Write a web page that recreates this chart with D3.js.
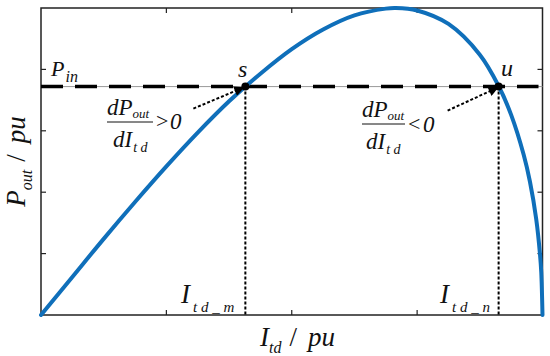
<!DOCTYPE html>
<html>
<head>
<meta charset="utf-8">
<script src="https://cdn.jsdelivr.net/npm/d3@7"></script>
<style>
  body { margin: 0; background: #fff; }
  svg text { font-family: "Liberation Serif", "DejaVu Serif", serif; font-style: italic; fill: #111; }
</style>
</head>
<body>
<svg id="chart" width="550" height="356"></svg>
<script>
// curve (I_td vs P_out, both in pu)
const itd  = [0, 0.25, 0.5, 0.75, 1.0, 1.25, 1.5, 1.75, 2.0, 2.25, 2.5, 2.75, 2.83, 3.0, 3.25, 3.5, 3.65, 3.75, 3.85, 3.9, 3.95, 3.98, 3.99, 4.0];
const pout = [0, 0.62, 1.24, 1.84, 2.42, 2.97, 3.48, 3.93, 4.33, 4.65, 4.88, 4.99, 5.0, 4.96, 4.74, 4.24, 3.73, 3.26, 2.61, 2.17, 1.56, 0.99, 0.7, 0];

const xTicks = [1, 2, 3];
const yTicks = [1, 2, 3, 4];

const pin = 3.72;      // P_in level
const sI = 1.63;       // stable point s
const uI = 3.65;       // unstable point u

const MARGIN = { LEFT: 41, RIGHT: 7.5, TOP: 8, BOTTOM: 41 };
const width = 550, height = 356;

const svg = d3.select("#chart");

const xScale = d3.scaleLinear().domain([0, 4]).range([MARGIN.LEFT, width - MARGIN.RIGHT]);
const yScale = d3.scaleLinear().domain([0, 5]).range([height - MARGIN.BOTTOM, MARGIN.TOP]);

const x0 = xScale(0), x1 = xScale(4), y0 = yScale(0), y1 = yScale(5);

// arrow marker
svg.append("defs").append("marker")
    .attr("id", "head")
    .attr("viewBox", "0 0 10 10")
    .attr("refX", 9).attr("refY", 5)
    .attr("markerUnits", "userSpaceOnUse")
    .attr("markerWidth", 12).attr("markerHeight", 10)
    .attr("orient", "auto")
  .append("path")
    .attr("d", "M0,0 L10,5 L0,10 z")
    .attr("fill", "#000");

// frame
svg.append("rect")
    .attr("x", x0).attr("y", y1)
    .attr("width", x1 - x0).attr("height", y0 - y1)
    .attr("fill", "none").attr("stroke", "#222").attr("stroke-width", 1.5);

// ticks pointing inward on all four sides
xTicks.forEach(function (t) {
  svg.append("line").attr("x1", xScale(t)).attr("x2", xScale(t)).attr("y1", y0).attr("y2", y0 - 5)
      .attr("stroke", "#222").attr("stroke-width", 1.2);
  svg.append("line").attr("x1", xScale(t)).attr("x2", xScale(t)).attr("y1", y1).attr("y2", y1 + 5)
      .attr("stroke", "#222").attr("stroke-width", 1.2);
});
yTicks.forEach(function (t) {
  svg.append("line").attr("x1", x0).attr("x2", x0 + 5).attr("y1", yScale(t)).attr("y2", yScale(t))
      .attr("stroke", "#222").attr("stroke-width", 1.2);
  svg.append("line").attr("x1", x1).attr("x2", x1 - 5).attr("y1", yScale(t)).attr("y2", yScale(t))
      .attr("stroke", "#222").attr("stroke-width", 1.2);
});

// P_in line: thin grey base plus thick dashes
svg.append("line")
    .attr("x1", x0).attr("x2", x1).attr("y1", yScale(pin)).attr("y2", yScale(pin))
    .attr("stroke", "#999").attr("stroke-width", 1);
svg.append("line")
    .attr("x1", x0).attr("x2", x1 - 4).attr("y1", yScale(pin)).attr("y2", yScale(pin))
    .attr("stroke", "#000").attr("stroke-width", 3.5)
    .attr("stroke-dasharray", "22,12");

// vertical dotted drops from s and u
[sI, uI].forEach(function (v) {
  svg.append("line")
      .attr("x1", xScale(v)).attr("x2", xScale(v))
      .attr("y1", yScale(pin)).attr("y2", y0)
      .attr("stroke", "#000").attr("stroke-width", 2)
      .attr("stroke-dasharray", "3,2");
});

// curve
const line = d3.line()
    .x(d => xScale(d))
    .y((d, i) => yScale(pout[i]))
    .curve(d3.curveCatmullRom);

svg.append("path")
    .attr("d", line(itd))
    .attr("fill", "none")
    .attr("stroke", "#0f6fba")
    .attr("stroke-width", 4)
    .attr("stroke-linecap", "round");

// operating points
[sI, uI].forEach(function (v) {
  svg.append("circle").attr("cx", xScale(v)).attr("cy", yScale(pin)).attr("r", 4).attr("fill", "#000");
});

// dotted arrows
svg.append("line")
    .attr("x1", xScale(sI) - 52).attr("y1", yScale(pin) + 22)
    .attr("x2", xScale(sI) - 2).attr("y2", yScale(pin) + 1)
    .attr("stroke", "#000").attr("stroke-width", 2).attr("stroke-dasharray", "3,2")
    .attr("marker-end", "url(#head)");
svg.append("line")
    .attr("x1", xScale(uI) - 51).attr("y1", yScale(pin) + 24)
    .attr("x2", xScale(uI) - 1).attr("y2", yScale(pin) + 1)
    .attr("stroke", "#000").attr("stroke-width", 2).attr("stroke-dasharray", "3,2")
    .attr("marker-end", "url(#head)");

// helper: main text with subscript
function label(x, y, main, sub, size, subSize, opts) {
  opts = opts || {};
  const t = svg.append("text").attr("x", x).attr("y", y).style("font-size", size + "px");
  t.append("tspan").text(main);
  if (sub) {
    const s = t.append("tspan").attr("dy", opts.dy || 5).style("font-size", subSize + "px").text(sub);
    if (opts.dx) s.attr("dx", opts.dx);
    if (opts.spacing) s.style("letter-spacing", opts.spacing + "px");
  }
  return t;
}

label(51, 76, "P", "in", 22, 16, { dy: 6, dx: 1 });
svg.append("text").attr("x", 238).attr("y", 77).style("font-size", "24px").text("s");
svg.append("text").attr("x", 501).attr("y", 76).style("font-size", "24px").text("u");

// dP/dI > 0
label(107, 115, "dP", "out", 23, 13, { dy: 3 });
svg.append("line").attr("x1", 107).attr("x2", 153).attr("y1", 122).attr("y2", 122)
    .attr("stroke", "#111").attr("stroke-width", 1);
label(113, 147, "dI", "t d", 23, 14, { dy: 5, dx: 1 });
svg.append("text").attr("x", 156).attr("y", 128).style("font-size", "22px").style("font-style", "normal").text(">");
svg.append("text").attr("x", 170).attr("y", 129).style("font-size", "23px").text("0");

// dP/dI < 0
label(362, 117, "dP", "out", 23, 13, { dy: 3 });
svg.append("line").attr("x1", 362).attr("x2", 405).attr("y1", 124).attr("y2", 124)
    .attr("stroke", "#111").attr("stroke-width", 1);
label(366, 149, "dI", "t d", 23, 14, { dy: 5, dx: 1 });
svg.append("text").attr("x", 408).attr("y", 131).style("font-size", "22px").style("font-style", "normal").text("<");
svg.append("text").attr("x", 423).attr("y", 132).style("font-size", "23px").text("0");

// I_td_m, I_td_n
label(181, 303, "I", "t d _ m", 27, 15, { dy: 9, dx: 3 });
label(440, 303, "I", "t d _ n", 27, 15, { dy: 9, dx: 3 });

// axis titles
const xt = svg.append("text").attr("x", 260).attr("y", 346).style("font-size", "27px");
xt.append("tspan").text("I");
xt.append("tspan").attr("dy", 7).style("font-size", "16px").text("td");
xt.append("tspan").attr("dy", -7).attr("dx", 8).style("font-style", "normal").text("/");
xt.append("tspan").attr("dx", 11).text("pu");

const yt = svg.append("text")
    .attr("transform", "translate(25," + ((y0 + y1) / 2) + ") rotate(-90)")
    .attr("text-anchor", "middle")
    .style("font-size", "27px");
yt.append("tspan").text("P");
yt.append("tspan").attr("dy", 7).style("font-size", "16px").text("out");
yt.append("tspan").attr("dy", -7).attr("dx", 8).style("font-style", "normal").text("/");
yt.append("tspan").attr("dx", 11).text("pu");
</script>
</body>
</html>
